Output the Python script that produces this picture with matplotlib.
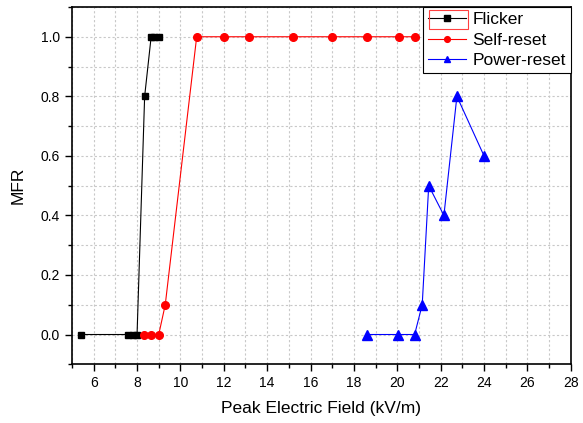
import numpy as np
import matplotlib
matplotlib.use("Agg")
import matplotlib.pyplot as plt
from matplotlib.patches import Rectangle
from matplotlib.ticker import MultipleLocator

plt.rcParams['font.family'] = ['Liberation Sans', 'DejaVu Sans']

# data
flicker_x = [5.4, 7.6, 7.8, 8.0, 8.35, 8.65, 8.8, 9.0]
flicker_y = [0, 0, 0, 0, 0.8, 1, 1, 1]

self_x = [8.3, 8.65, 9.0, 9.3, 10.75, 12.0, 13.15, 15.2, 17.0, 18.6, 20.1, 20.8]
self_y = [0, 0, 0, 0.1, 1, 1, 1, 1, 1, 1, 1, 1]

power_x = [18.6, 20.05, 20.8, 21.15, 21.45, 22.15, 22.75, 24.0]
power_y = [0, 0, 0, 0.1, 0.5, 0.4, 0.8, 0.6]

fig = plt.figure(figsize=(5.83, 4.23), dpi=100)
ax = fig.add_axes([0.1235, 0.1388, 0.8555, 0.8447])

ax.plot(flicker_x, flicker_y, color='black', lw=0.8, marker='s', ms=5,
        label='Flicker')
ax.plot(self_x, self_y, color='red', lw=0.8, marker='o', ms=5.5,
        label='Self-reset')
ax.plot(power_x, power_y, color='blue', lw=0.8, marker='^', ms=6.5,
        label='Power-reset')

ax.set_xlim(5, 28)
ax.set_ylim(-0.1, 1.1)
ax.xaxis.set_major_locator(MultipleLocator(2))
ax.xaxis.set_minor_locator(MultipleLocator(1))
ax.yaxis.set_major_locator(MultipleLocator(0.2))
ax.yaxis.set_minor_locator(MultipleLocator(0.1))
ax.yaxis.set_major_formatter(matplotlib.ticker.FormatStrFormatter('%.1f'))

ax.grid(True, which='both', color='#c8c8c8', ls=(0, (2, 2)), lw=0.8)
ax.set_axisbelow(True)

ax.tick_params(which='major', direction='out', length=5, width=1,
               labelsize=10)
ax.tick_params(which='minor', direction='out', length=3, width=1)
for s in ax.spines.values():
    s.set_linewidth(1.2)

ax.set_xlabel('Peak Electric Field (kV/m)', fontsize=12.5, labelpad=8)
ax.set_ylabel('MFR', fontsize=12.5, labelpad=11)

leg = ax.legend(loc='upper right', fontsize=12.5, borderaxespad=0,
                fancybox=False, framealpha=1, edgecolor='black',
                handlelength=2.2, handletextpad=0.35, borderpad=0.3,
                labelspacing=0.3, markerscale=0.75)
leg.get_frame().set_linewidth(0.8)

# red selection box around the first legend handle, as in the source image
fig.patches.append(Rectangle((0.736, 0.931), 0.0674, 0.0449, fill=False,
                             edgecolor='#ff4040', lw=0.8,
                             transform=fig.transFigure, figure=fig))

fig.savefig('out.png', dpi=100)
